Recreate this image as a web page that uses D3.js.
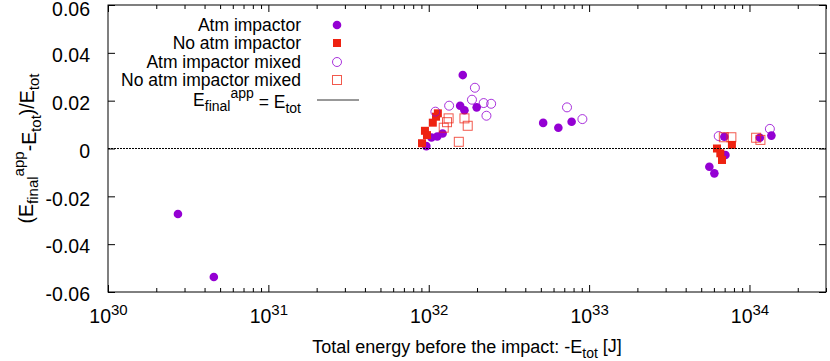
<!DOCTYPE html>
<html>
<head>
<meta charset="utf-8">
<script src="https://cdn.jsdelivr.net/npm/d3@7"></script>
<style>
  body { margin: 0; background: #fff; }
  svg text { font-family: "Liberation Sans", Arial, sans-serif; fill: #000; }
</style>
</head>
<body>
<div class="g-chart"></div>
<script>
// energies [J] and relative errors
var atmE = [2.73e30, 4.57e30, 9.66e31, 1.04e32, 1.13e32, 1.22e32, 1.57e32, 1.63e32, 1.67e32, 1.99e32,
            5.17e32, 6.43e32, 7.78e32, 5.62e33, 6.04e33, 6.97e33, 7.08e33, 1.16e34, 1.37e34];
var atmV = [-0.0274, -0.0537, 0.001, 0.0046, 0.005, 0.0063, 0.0179, 0.0307, 0.016, 0.0172,
            0.0107, 0.0087, 0.0112, -0.0076, -0.0104, 0.0049, -0.0027, 0.0045, 0.0054];

var noAtmE = [9.08e31, 9.47e31, 9.75e31, 1.06e32, 1.11e32, 1.14e32, 6.27e33, 6.58e33, 6.74e33, 7.77e33];
var noAtmV = [0.0022, 0.0074, 0.0056, 0.0108, 0.0133, 0.0147, 0.0, -0.002, -0.0048, 0.0015];

var atmMixE = [1.1e32, 1.34e32, 1.86e32, 1.94e32, 2.2e32, 2.29e32, 2.45e32, 7.28e32, 9.08e32, 6.43e33, 1.34e34];
var atmMixV = [0.0154, 0.0179, 0.0204, 0.0254, 0.019, 0.0137, 0.0187, 0.0172, 0.0123, 0.0052, 0.0082];

var noAtmMixE = [1.24e32, 1.3e32, 1.33e32, 1.54e32, 1.67e32, 1.75e32, 6.92e33, 7.71e33, 1.1e34, 1.17e34];
var noAtmMixV = [0.0087, 0.011, 0.0126, 0.0028, 0.0126, 0.0095, 0.0047, 0.0047, 0.0045, 0.0036];

var xMajor = [1e30, 1e31, 1e32, 1e33, 1e34];
var xExp = ["30", "31", "32", "33", "34"];
var yTicks = [-0.06, -0.04, -0.02, 0, 0.02, 0.04, 0.06];
var yTickLabels = ["-0.06", "-0.04", "-0.02", "0", "0.02", "0.04", "0.06"];

var purple = "#9400d3", red = "#ee2211";

var width = 830, height = 361;
var pL = 108, pR = 826, pT = 5, pB = 292;

var svg = d3.select(".g-chart").append("svg")
  .attr("width", width).attr("height", height);

var x = d3.scaleLog().domain([1e30, 3e34]).range([pL, pR]);
var y = d3.scaleLinear().domain([-0.06, 0.06]).range([pB, pT]);

var xMinor = [];
for (var k = 30; k <= 34; k++) {
  for (var m = 2; m <= 9; m++) {
    var mv = m * Math.pow(10, k);
    if (mv <= 3e34) xMinor.push(mv);
  }
}

// bottom major axis with labels
var xAxis = d3.axisBottom(x).tickValues(xMajor).tickSize(-7).tickPadding(17).tickFormat("");
var gx = svg.append("g").attr("transform", `translate(0,${pB})`).call(xAxis);
gx.selectAll(".tick text").each(function(d, i) {
  var t = d3.select(this).style("font-size", "19.5px").attr("dy", "0.71em");
  t.append("tspan").text("10");
  t.append("tspan").attr("dy", "-0.5em").style("font-size", "15px").text(xExp[i]);
});
svg.append("g").attr("transform", `translate(0,${pB})`)
  .call(d3.axisBottom(x).tickValues(xMinor).tickSize(-4).tickFormat(""));
// top mirror
svg.append("g").attr("transform", `translate(0,${pT})`)
  .call(d3.axisTop(x).tickValues(xMajor).tickSize(-7).tickFormat(""));
svg.append("g").attr("transform", `translate(0,${pT})`)
  .call(d3.axisTop(x).tickValues(xMinor).tickSize(-4).tickFormat(""));

// y axes
var gy = svg.append("g").attr("transform", `translate(${pL},0)`)
  .call(d3.axisLeft(y).tickValues(yTicks).tickSize(-7).tickPadding(18)
        .tickFormat((d, i) => yTickLabels[i]));
gy.selectAll(".tick text").style("font-size", "19.5px")
  .attr("dy", d => d === 0.06 ? "0.55em" : "0.45em");
svg.append("g").attr("transform", `translate(${pR},0)`)
  .call(d3.axisRight(y).tickValues(yTicks).tickSize(-7).tickFormat(""));

svg.selectAll(".domain").remove();
svg.selectAll(".tick line").attr("stroke", "#000");

// frame
svg.append("rect").attr("x", pL).attr("y", pT)
  .attr("width", pR - pL).attr("height", pB - pT)
  .attr("fill", "none").attr("stroke", "#000").attr("stroke-width", 1);

var plot = svg.append("g");

function pts(E, V) { return E.map((e, i) => ({e: e, v: V[i]})); }

plot.selectAll(".atm").data(pts(atmE, atmV)).enter().append("circle")
  .attr("cx", d => x(d.e)).attr("cy", d => y(d.v)).attr("r", 4.3).attr("fill", purple);

plot.selectAll(".noatm").data(pts(noAtmE, noAtmV)).enter().append("rect")
  .attr("x", d => x(d.e) - 4).attr("y", d => y(d.v) - 4).attr("width", 8).attr("height", 8)
  .attr("fill", red);

plot.selectAll(".atmmix").data(pts(atmMixE, atmMixV)).enter().append("circle")
  .attr("cx", d => x(d.e)).attr("cy", d => y(d.v)).attr("r", 4.5)
  .attr("fill", "none").attr("stroke", purple).attr("stroke-width", 1).attr("stroke-opacity", 0.8);

plot.selectAll(".noatmmix").data(pts(noAtmMixE, noAtmMixV)).enter().append("rect")
  .attr("x", d => x(d.e) - 4.5).attr("y", d => y(d.v) - 4.5).attr("width", 9).attr("height", 9)
  .attr("fill", "none").attr("stroke", red).attr("stroke-width", 1).attr("stroke-opacity", 0.75);

// E_final^app = E_tot line
plot.append("line")
  .attr("x1", x(1e30)).attr("x2", x(3e34)).attr("y1", y(0)).attr("y2", y(0))
  .attr("stroke", "#000").attr("stroke-width", 1.2).attr("stroke-dasharray", "2,1");

// legend
var legX = 301, symX = 337;
var legY = [25, 43, 62, 80, 100];
var legend = svg.append("g").style("font-size", "17.5px");
var legNames = ["Atm impactor", "No atm impactor", "Atm impactor mixed", "No atm impactor mixed"];
legNames.forEach(function(n, i) {
  legend.append("text").attr("x", legX).attr("y", legY[i]).attr("dy", "0.35em")
    .attr("text-anchor", "end").text(n);
});
legend.append("circle").attr("cx", symX).attr("cy", legY[0]).attr("r", 4.3).attr("fill", purple);
legend.append("rect").attr("x", symX - 4).attr("y", legY[1] - 4).attr("width", 8).attr("height", 8).attr("fill", red);
legend.append("circle").attr("cx", symX).attr("cy", legY[2]).attr("r", 4.5)
  .attr("fill", "none").attr("stroke", purple).attr("stroke-opacity", 0.8);
legend.append("rect").attr("x", symX - 4.5).attr("y", legY[3] - 4.5).attr("width", 9).attr("height", 9)
  .attr("fill", "none").attr("stroke", red).attr("stroke-opacity", 0.75);

var lt = legend.append("text").attr("x", legX).attr("y", legY[4]).attr("dy", "0.35em").attr("text-anchor", "end");
lt.append("tspan").text("E");
lt.append("tspan").attr("dy", "0.35em").style("font-size", "14px").text("final");
lt.append("tspan").attr("dy", "-0.95em").style("font-size", "14px").text("app");
lt.append("tspan").attr("dy", "0.6em").text(" = E");
lt.append("tspan").attr("dy", "0.35em").style("font-size", "14px").text("tot");
legend.append("line").attr("x1", 317).attr("x2", 359).attr("y1", legY[4]).attr("y2", legY[4])
  .attr("stroke", "#333").attr("stroke-width", 1);

// axis titles
var xl = svg.append("text").attr("x", (pL + pR) / 2).attr("y", 353)
  .attr("text-anchor", "middle").style("font-size", "18px");
xl.append("tspan").text("Total energy before the impact: -E");
xl.append("tspan").attr("dy", "0.35em").style("font-size", "14px").text("tot");
xl.append("tspan").attr("dy", "-0.35em").text(" [J]");

var yl = svg.append("text").attr("transform", `translate(33,${(pT + pB) / 2}) rotate(-90)`)
  .attr("text-anchor", "middle").style("font-size", "19.5px");
yl.append("tspan").text("(E");
yl.append("tspan").attr("dy", "0.35em").style("font-size", "15px").text("final");
yl.append("tspan").attr("dy", "-0.95em").style("font-size", "15px").text("app");
yl.append("tspan").attr("dy", "0.6em").text("-E");
yl.append("tspan").attr("dy", "0.35em").style("font-size", "15px").text("tot");
yl.append("tspan").attr("dy", "-0.35em").text(")/E");
yl.append("tspan").attr("dy", "0.35em").style("font-size", "15px").text("tot");
</script>
</body>
</html>
